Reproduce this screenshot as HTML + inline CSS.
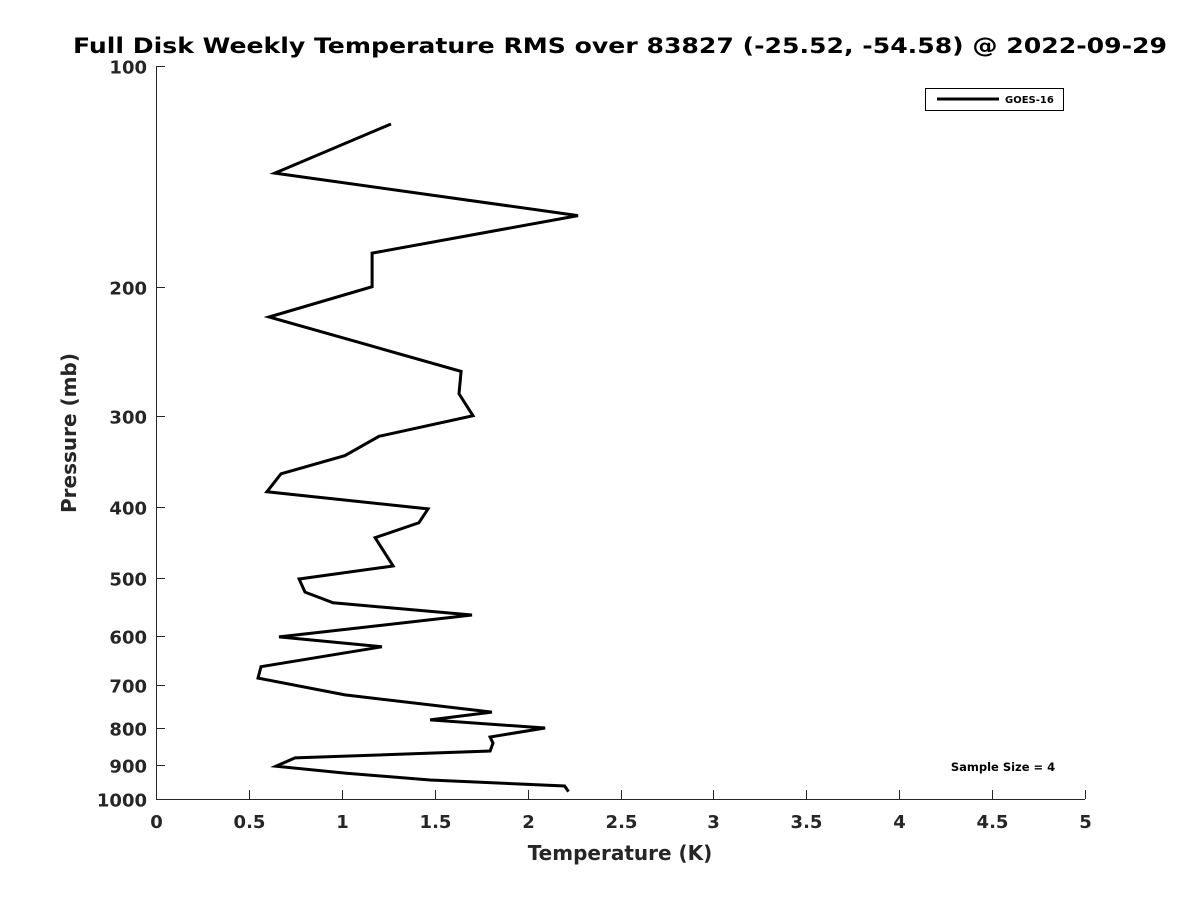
<!DOCTYPE html>
<html><head><meta charset="utf-8"><style>
body{margin:0;background:#fff;}
svg text{font-family:"DejaVu Sans","Liberation Sans",sans-serif;font-weight:bold;fill:#262626;}
</style></head><body>
<svg id="chart" width="1200" height="900" xmlns="http://www.w3.org/2000/svg">
<rect width="1200" height="900" fill="#fff"/>
<text x="620" y="53" font-size="21" text-anchor="middle" textLength="1094" lengthAdjust="spacingAndGlyphs" style="fill:#000">Full Disk Weekly Temperature RMS over 83827 (-25.52, -54.58) @ 2022-09-29</text>
<g id="axes"></g>
<polyline id="series" fill="none" stroke="#000" stroke-width="3" stroke-linejoin="miter"/>
<text x="620" y="860" font-size="20" text-anchor="middle">Temperature (K)</text>
<text transform="translate(76,433) rotate(-90)" font-size="20" text-anchor="middle">Pressure (mb)</text>
<g>
<rect x="925.5" y="88.5" width="138" height="22" fill="#fff" stroke="#000" stroke-width="1"/>
<line x1="937" y1="99" x2="999" y2="99" stroke="#000" stroke-width="3"/>
<text x="1005" y="103" font-size="10" style="fill:#000">GOES-16</text>
</g>
<text x="1003" y="771" font-size="11.5" text-anchor="middle" style="fill:#000">Sample Size = 4</text>
</svg>
<script>
const temps=[1.265,0.640,2.271,1.163,1.163,0.608,1.136,1.642,1.631,1.706,1.200,1.017,0.673,0.597,1.464,1.415,1.179,1.276,0.770,0.802,0.953,1.701,0.662,1.216,0.565,0.549,1.017,1.808,1.475,2.094,1.798,1.814,1.798,0.748,0.646,1.017,1.475,2.199,2.220];
const pressures=[120,140,160,180,200,220,240,261,280,300,320,340,360,381,402,420,440,481,501,522,540,561,601,620,660,684,721,761,780,800,823,839,860,879,902,922,942,960,977];
const xTicks=[0,0.5,1,1.5,2,2.5,3,3.5,4,4.5,5];
const xTickLabels=["0","0.5","1","1.5","2","2.5","3","3.5","4","4.5","5"];
const yTicks=[100,200,300,400,500,600,700,800,900,1000];
const L=156,R=1085,T=66,B=799;
function xs(v){return L+(v-0)/(5-0)*(R-L);}
function ys(p){return T+(Math.log10(p)-2)/(3-2)*(B-T);}
const NS="http://www.w3.org/2000/svg";
const ax=document.getElementById('axes');
function mk(tag,attrs){const e=document.createElementNS(NS,tag);for(const k in attrs)e.setAttribute(k,attrs[k]);return e;}
let l=mk('line',{x1:L,y1:B+0.5,x2:R,y2:B+0.5,stroke:'#262626','stroke-width':1});


ax.appendChild(l);
l=mk('line',{x1:L+0.5,y1:T,x2:L+0.5,y2:B,stroke:'#262626','stroke-width':1});


ax.appendChild(l);
xTicks.forEach((v,i)=>{const x=Math.round(xs(v))+0.5;
const t=mk('line',{x1:x,y1:B,x2:x,y2:B-9,stroke:'#262626','stroke-width':1});


ax.appendChild(t);
const tx=mk('text',{x:x,y:B+29,'font-size':18,'text-anchor':'middle'});tx.textContent=xTickLabels[i];


ax.appendChild(tx);});
yTicks.forEach(p=>{const y=Math.round(ys(p))+0.5;
const t=mk('line',{x1:L,y1:y,x2:L+9,y2:y,stroke:'#262626','stroke-width':1});


ax.appendChild(t);
const tx=mk('text',{x:L-9,y:y+7,'font-size':18,'text-anchor':'end'});tx.textContent=String(p);


ax.appendChild(tx);});
document.getElementById('series').setAttribute('points',temps.map((t,i)=>xs(t).toFixed(1)+','+ys(pressures[i]).toFixed(1)).join(' '));
</script>
</body></html>
